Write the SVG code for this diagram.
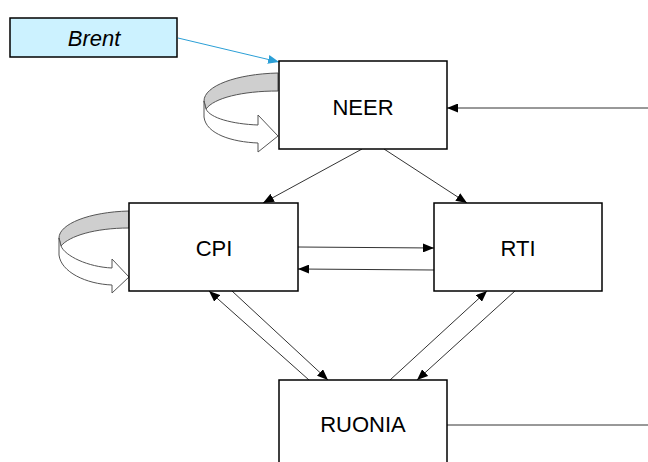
<svg xmlns="http://www.w3.org/2000/svg" width="648" height="462" viewBox="0 0 648 462">
  <style>
    .box { fill: #ffffff; stroke: #000000; stroke-width: 1.5; }
    .brent { fill: #ccf2ff; stroke: #000000; stroke-width: 1.5; }
    .label { font-family: "Liberation Sans", Arial, sans-serif; font-size: 22px; fill: #000000; text-anchor: middle; }
    .italic { font-style: italic; }
    .conn { stroke: #333333; stroke-width: 1; fill: none; marker-end: url(#head); }
    .plain { stroke: #333333; stroke-width: 1; fill: none; }
    .blue { stroke: #2b9fd6; stroke-width: 1; fill: none; marker-end: url(#headBlue); }
    .loopBack { fill: #cfcfcf; stroke: #555555; stroke-width: 1; }
    .loopFront { fill: #ffffff; stroke: #555555; stroke-width: 1; }
  </style>
  <defs>
    <marker id="head" viewBox="0 0 11 9" refX="11" refY="4.5" markerWidth="11" markerHeight="9" orient="auto" markerUnits="userSpaceOnUse">
      <path d="M0,0 L11,4.5 L0,9 Z" fill="#000000"/>
    </marker>
    <marker id="headBlue" viewBox="0 0 11 9" refX="11" refY="4.5" markerWidth="11" markerHeight="9" orient="auto" markerUnits="userSpaceOnUse">
      <path d="M0,0 L11,4.5 L0,9 Z" fill="#2b9fd6"/>
    </marker>
  </defs>

  <rect width="648" height="462" fill="#ffffff"/>

  <!-- connectors -->
  <g id="connectors">
    <path class="conn" d="M648,108 L447,108"/>
    <path class="conn" d="M362,149 L263,203"/>
    <path class="conn" d="M384,149 L467,203"/>
    <path class="conn" d="M298,247 L434,248"/>
    <path class="conn" d="M434,270 L298,269"/>
    <path class="conn" d="M309,380 L209,291"/>
    <path class="conn" d="M232,291 L328,380"/>
    <path class="conn" d="M390,380 L487,291"/>
    <path class="conn" d="M515,291 L417,380"/>
    <path class="plain" d="M447,425 L648,425"/>
    <path class="blue" d="M178,38 L279,62"/>
  </g>

  <!-- self-loop on NEER -->
  <g id="loop-neer">
    <path class="loopBack" d="M278,73 C236,74 204,86 204,101 L206,109 C214,98 242,91 278,91 Z"/>
    <path class="loopFront" d="M204,101 L204,117 C206,134 232,142 258,143 L258,152 L278,136 L258,115 L258,125 C232,124 210,118 206,109 Z"/>
  </g>

  <!-- self-loop on CPI -->
  <g id="loop-cpi">
    <path class="loopBack" d="M129,211 C89,212 59,224 59,238 L61,246 C69,236 95,228 129,228 Z"/>
    <path class="loopFront" d="M59,238 L59,255 C61,272 86,284 112,285 L112,293 L129,277 L112,259 L112,268 C88,267 65,256 61,246 Z"/>
  </g>

  <g id="brent">
    <rect class="brent" x="10" y="18" width="167" height="39"/>
    <text class="label italic" x="94" y="46">Brent</text>
  </g>

  <g id="neer">
    <rect class="box" x="279" y="61" width="168" height="88"/>
    <text class="label" x="363" y="115">NEER</text>
  </g>

  <g id="cpi">
    <rect class="box" x="129" y="203" width="169" height="88"/>
    <text class="label" x="214" y="256">CPI</text>
  </g>

  <g id="rti">
    <rect class="box" x="434" y="203" width="168" height="88"/>
    <text class="label" x="518" y="256">RTI</text>
  </g>

  <g id="ruonia">
    <rect class="box" x="279" y="380" width="168" height="100"/>
    <text class="label" x="363" y="432">RUONIA</text>
  </g>
</svg>
